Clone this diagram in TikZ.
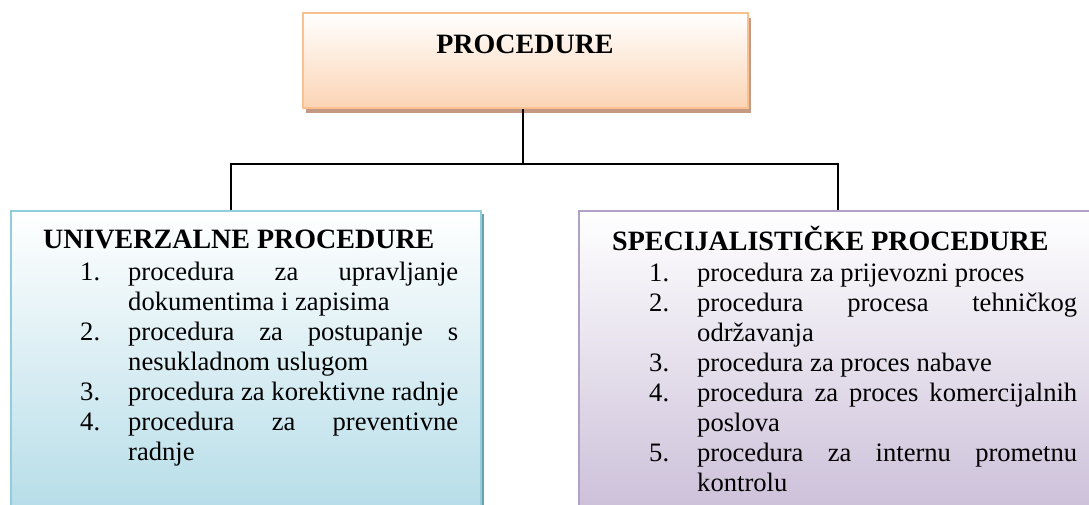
\documentclass[tikz,border=0pt]{standalone}
\usepackage{fontspec}
\setmainfont{Liberation Serif}
\usetikzlibrary{shadows}

\definecolor{procedge}{HTML}{FAC08F}
\definecolor{procfill}{HTML}{FBD4B4}
\definecolor{procshade}{HTML}{C49A84}
\definecolor{univedge}{HTML}{92CDDC}
\definecolor{univfill}{HTML}{B6DDE8}
\definecolor{univshade}{HTML}{6A9FAE}
\definecolor{specedge}{HTML}{B2A1C7}
\definecolor{specfill}{HTML}{CCC0D9}

\newcommand{\headfont}{\fontsize{28}{32}\selectfont\bfseries}
\newcommand{\listfont}{\fontsize{26.6}{30}\selectfont}
\newcommand{\itemno}[1]{\makebox[48pt][l]{#1}}

\begin{document}
\begin{tikzpicture}[x=1pt,y=-1pt,
  every node/.style={inner sep=0pt},
  box/.style={rectangle,line width=2.5pt},
  conn/.style={line width=2pt}]
\useasboundingbox (0,0) rectangle (1089,504);
% boxes
\node[box,draw=procedge,top color=white,bottom color=procfill,
  drop shadow={shadow xshift=3pt,shadow yshift=-5pt,fill=procshade,opacity=1},
  minimum width=445pt,minimum height=95pt] (proc) at (525.5,60.5) {};
\node[box,draw=univedge,top color=white,bottom color=univfill,
  drop shadow={shadow xshift=3pt,shadow yshift=-3pt,fill=univshade,opacity=1},
  minimum width=470pt,minimum height=301pt] (univ) at (246,361.5) {};
\node[box,draw=specedge,top color=white,bottom color=specfill,
  minimum width=521pt,minimum height=301pt] (spec) at (839.5,361.5) {};
% connectors
\coordinate (hub) at (523,164);
\coordinate (lknee) at (231,164);
\coordinate (rknee) at (838,164);
\draw[conn] (proc.south -| hub) -- (hub);
\draw[conn] (lknee |- univ.north) -- (lknee) -- (rknee) -- (rknee |- spec.north);
% texts
\node[anchor=base] (proctitle) at (525,53) {\headfont PROCEDURE};
\node[anchor=base west] (univhead) at (43,248) {\headfont UNIVERZALNE PROCEDURE};
\node[anchor=base west] (spechead) at (612,250) {\headfont SPECIJALISTIČKE PROCEDURE};
\node[anchor=base west] (univlist) at (80,280) {\parbox[t]{380pt}{\listfont
\itemno{1.}\makebox[330pt][s]{procedura za upravljanje}\par
\hspace*{48pt}dokumentima i zapisima\par
\itemno{2.}\makebox[330pt][s]{procedura za postupanje s}\par
\hspace*{48pt}nesukladnom uslugom\par
\itemno{3.}procedura za korektivne radnje\par
\itemno{4.}\makebox[330pt][s]{procedura za preventivne}\par
\hspace*{48pt}radnje}};
\node[anchor=base west] (speclist) at (649,281) {\parbox[t]{430pt}{\listfont
\itemno{1.}procedura za prijevozni proces\par
\itemno{2.}\makebox[380pt][s]{procedura procesa tehničkog}\par
\hspace*{48pt}održavanja\par
\itemno{3.}procedura za proces nabave\par
\itemno{4.}\makebox[380pt][s]{procedura za proces komercijalnih}\par
\hspace*{48pt}poslova\par
\itemno{5.}\makebox[380pt][s]{procedura za internu prometnu}\par
\hspace*{48pt}kontrolu}};
\end{tikzpicture}
\end{document}
